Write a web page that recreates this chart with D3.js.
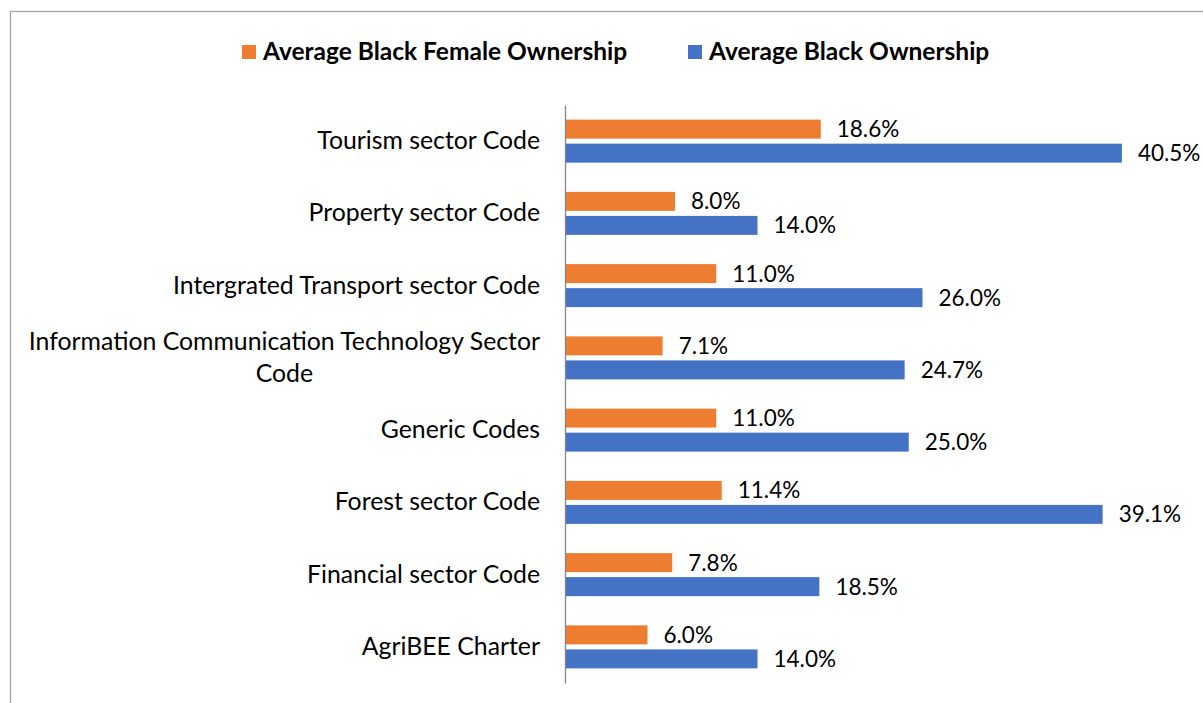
<!DOCTYPE html>
<html>
<head>
<meta charset="utf-8">
<script src="https://cdn.jsdelivr.net/npm/d3@7"></script>
<style>
  body { margin: 0; background: #fff; }
  svg { display: block; font-family: Lato, "Open Sans", sans-serif; }
</style>
</head>
<body>
<div class="chart"></div>
<script>
// sectors, top to bottom
const sectors = [
  "Tourism sector Code",
  "Property sector Code",
  "Intergrated Transport sector Code",
  "Information Communication Technology Sector Code",
  "Generic Codes",
  "Forest sector Code",
  "Financial sector Code",
  "AgriBEE Charter"
]
const femaleOwnership = [18.6, 8.0, 11.0, 7.1, 11.0, 11.4, 7.8, 6.0]
const blackOwnership = [40.5, 14.0, 26.0, 24.7, 25.0, 39.1, 18.5, 14.0]
const seriesNames = ["Average Black Female Ownership", "Average Black Ownership"]
const seriesColors = ["#ED7D31", "#4472C4"]

const width = 1203, height = 703

const svg = d3.select(".chart")
  .append("svg")
  .attr("width", width)
  .attr("height", height)

// chart frame (right and bottom edges fall outside the picture)
svg.append("rect")
  .attr("x", 10.5).attr("y", 11.5)
  .attr("width", 1300).attr("height", 800)
  .attr("fill", "none")
  .attr("stroke", "#a6a6a6")
  .attr("stroke-width", 1.3)

const plotLeft = 565, plotTop = 105, plotBottom = 683

const xScale = d3.scaleLinear()
  .domain([0, 45])
  .range([plotLeft, plotLeft + 45 * 13.75])

const yScale = d3.scaleBand()
  .domain(sectors)
  .range([plotTop, plotBottom])

const band = yScale.bandwidth()
const seriesScale = d3.scaleBand()
  .domain(seriesNames)
  .range([(band - 43) / 2, (band + 43) / 2])
  .paddingInner(0.21)

// rows for drawing
const rows = []
sectors.forEach((s, i) => {
  rows.push({sector: s, series: seriesNames[0], value: femaleOwnership[i], color: seriesColors[0]})
  rows.push({sector: s, series: seriesNames[1], value: blackOwnership[i], color: seriesColors[1]})
})

const bounds = svg.append("g")

bounds.selectAll("rect.bar")
  .data(rows)
  .join("rect")
    .attr("class", "bar")
    .attr("x", xScale(0))
    .attr("y", d => yScale(d.sector) + seriesScale(d.series))
    .attr("width", d => xScale(d.value) - xScale(0))
    .attr("height", seriesScale.bandwidth())
    .attr("fill", d => d.color)

// value labels
bounds.selectAll("text.val")
  .data(rows)
  .join("text")
    .attr("class", "val")
    .attr("x", d => xScale(d.value) + 16)
    .attr("y", d => yScale(d.sector) + seriesScale(d.series) + seriesScale.bandwidth() / 2)
    .attr("dy", "0.36em")
    .attr("font-size", 22.5)
    .attr("fill", "#000")
    .text(d => d.value.toFixed(1) + "%")

// y axis
const yAxis = d3.axisLeft(yScale).tickSize(0).tickPadding(25)

const yAxisG = bounds.append("g")
  .attr("transform", `translate(${plotLeft},0)`)
  .call(yAxis)

yAxisG.select(".domain").attr("stroke", "#868686").attr("stroke-width", 1.3)
yAxisG.selectAll(".tick text")
  .attr("font-size", 24.8)
  .attr("font-family", "Lato, 'Open Sans', sans-serif")
  .attr("fill", "#000")
  .each(function () { wrap(d3.select(this), 525) })

function wrap(text, maxWidth) {
  const words = text.text().split(/\s+/)
  const x = text.attr("x")
  const lines = []
  let line = []
  text.text(null)
  const probe = text.append("tspan")
  words.forEach(w => {
    line.push(w)
    probe.text(line.join(" "))
    if (probe.node().getComputedTextLength() > maxWidth && line.length > 1) {
      line.pop()
      lines.push(line.join(" "))
      line = [w]
    }
  })
  lines.push(line.join(" "))
  probe.remove()
  if (lines.length === 1) {
    text.text(lines[0])
    return
  }
  // multi-line labels are centred among themselves, block right-aligned to the axis
  const lineHeight = 32
  const widths = lines.map(l => {
    const t = text.append("tspan").text(l)
    const w = t.node().getComputedTextLength()
    t.remove()
    return w
  })
  const blockW = d3.max(widths)
  const cx = +x - blockW / 2
  lines.forEach((l, i) => {
    text.append("tspan")
      .attr("x", cx)
      .attr("text-anchor", "middle")
      .attr("y", (i - (lines.length - 1) / 2) * lineHeight)
      .attr("dy", "0.32em")
      .text(l)
  })
}

// legend
const legend = svg.append("g")
const legendX = [242, 688]
seriesNames.forEach((name, i) => {
  const g = legend.append("g").attr("transform", `translate(${legendX[i]},45)`)
  g.append("rect")
    .attr("width", 14).attr("height", 14)
    .attr("fill", seriesColors[i])
  g.append("text")
    .attr("x", 21)
    .attr("y", 14.5)
    .attr("font-size", 24.5)
    .attr("font-weight", "bold")
    .attr("fill", "#000")
    .text(name)
})
</script>
</body>
</html>
